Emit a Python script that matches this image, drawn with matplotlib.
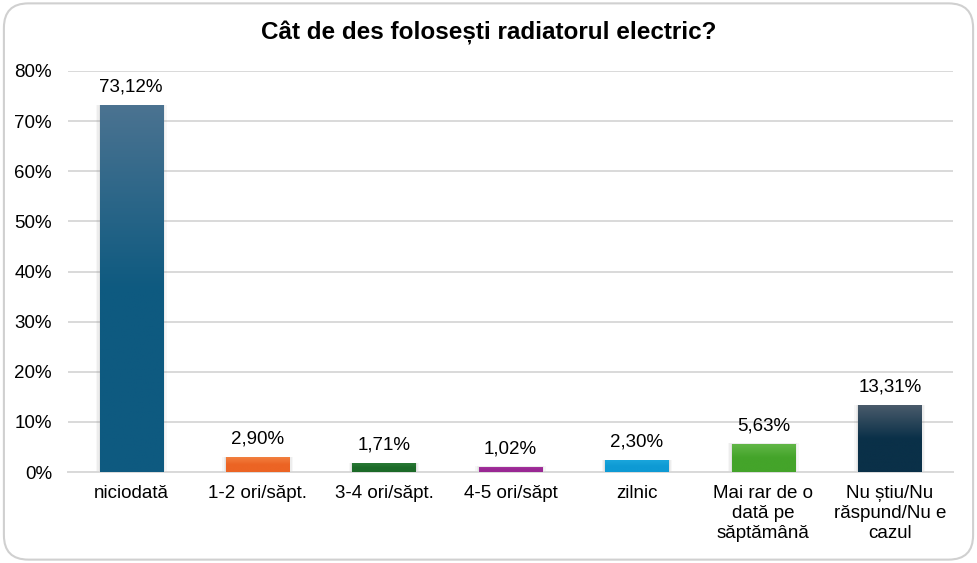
import matplotlib
matplotlib.use("Agg")
import matplotlib.pyplot as plt
import numpy as np
from matplotlib.patches import FancyBboxPatch, Rectangle
from matplotlib.colors import LinearSegmentedColormap
from matplotlib.ticker import FuncFormatter

plt.rcParams["font.family"] = ["Liberation Sans", "DejaVu Sans"]

# data
categories = [
    "niciodată",
    "1-2 ori/săpt.",
    "3-4 ori/săpt.",
    "4-5 ori/săpt",
    "zilnic",
    "Mai rar de o\ndată pe\nsăptămână",
    "Nu știu/Nu\nrăspund/Nu e\ncazul",
]
values = [73.12, 2.90, 1.71, 1.02, 2.30, 5.63, 13.31]
labels = ["73,12%", "2,90%", "1,71%", "1,02%", "2,30%", "5,63%", "13,31%"]
# (top colour, bottom colour) for each bar
top_colors = ["#4b7391", "#f28040", "#2a7a36", "#a8389e", "#1aa6dc", "#64b84a", "#4a5b6b"]
bottom_colors = ["#0e5a80", "#ec6424", "#1c6a28", "#9a2894", "#0e9ad4", "#44a42a", "#0a3048"]

fig = plt.figure(figsize=(9.77, 5.63), dpi=100)
ax = fig.add_axes([0.0696, 0.1616, 0.9058, 0.7123])

# rounded outer frame
frame = FancyBboxPatch((0.004, 0.006), 0.992, 0.988,
                       boxstyle="round,pad=0,rounding_size=0.025",
                       transform=fig.transFigure, facecolor="none",
                       edgecolor="#d0d0d0", linewidth=1.5, mutation_aspect=977 / 563)
fig.patches.append(frame)

x = np.arange(len(categories))
width = 0.5
ax.set_xlim(-0.5, len(categories) - 0.5)
ax.set_ylim(0, 80)

bars = ax.bar(x, values, width=width, color="none", zorder=3)
grad = np.linspace(0, 1, 256).reshape(-1, 1)
for b, v, lab, c1, c2 in zip(bars, values, labels, top_colors, bottom_colors):
    x0 = b.get_x()
    # soft shadow
    for k, a in [(0.03, 0.06), (0.018, 0.08), (0.008, 0.10)]:
        ax.add_patch(Rectangle((x0 - k, 0), width + 2 * k, v + k * 5,
                               facecolor="#808080", alpha=a, edgecolor="none", zorder=2))
    cmap = LinearSegmentedColormap.from_list("g", [c1, c2, c2], N=256)
    im = ax.imshow(grad, cmap=cmap, aspect="auto", origin="upper",
                   extent=[x0, x0 + width, 0, v], zorder=3)
    im.set_clip_path(b)
    ax.annotate(lab, (x0 + width / 2, v), xytext=(0, 7), textcoords="offset points",
                ha="center", va="bottom", fontsize=13.5, color="#000000", zorder=4)

ax.set_xlim(-0.5, len(categories) - 0.5)
ax.set_ylim(0, 80)
ax.set_yticks(np.arange(0, 81, 10))
ax.yaxis.set_major_formatter(FuncFormatter(lambda v, p: f"{v:.0f}%"))
ax.set_xticks(x)
ax.set_xticklabels(categories, fontsize=13.5, linespacing=1.25)
ax.tick_params(axis="y", labelsize=13.5, length=0, pad=11.5)
ax.tick_params(axis="x", length=0, pad=9)
ax.grid(axis="y", color="#d9d9d9", linewidth=1.4, zorder=0)
ax.set_axisbelow(True)
for s in ["top", "right", "left"]:
    ax.spines[s].set_visible(False)
ax.spines["bottom"].set_color("#d9d9d9")
ax.spines["bottom"].set_linewidth(1.4)

fig.text(0.5, 0.941, "Cât de des folosești radiatorul electric?", ha="center",
         va="center", fontsize=17.5, fontweight="bold")

fig.savefig("out.png", dpi=100)
